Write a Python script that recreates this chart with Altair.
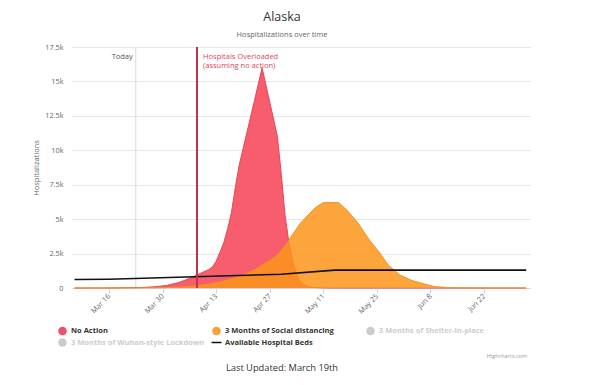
import altair as alt
import pandas as pd

# ---------------- data ----------------
no_action_dates = ["2020-03-07", "2020-03-16", "2020-03-24", "2020-03-28", "2020-03-31",
                   "2020-04-03", "2020-04-05", "2020-04-07", "2020-04-09", "2020-04-11",
                   "2020-04-12", "2020-04-13", "2020-04-14", "2020-04-15", "2020-04-16",
                   "2020-04-17", "2020-04-18", "2020-04-19", "2020-04-21", "2020-04-23",
                   "2020-04-25", "2020-04-27", "2020-04-29", "2020-04-30", "2020-05-01",
                   "2020-05-02", "2020-05-03", "2020-05-04", "2020-05-05", "2020-05-07",
                   "2020-05-09", "2020-05-11", "2020-05-15", "2020-07-03"]
no_action_values = [0, 5, 30, 90, 180,
                    380, 580, 820, 1080, 1330,
                    1520, 1950, 2600, 3300, 4300,
                    5500, 7300, 8900, 11250, 13600,
                    16000, 13500, 11000, 8300, 5300,
                    3300, 2000, 1000, 420, 90,
                    30, 10, 0, 0]

social_dates = ["2020-03-07", "2020-03-16", "2020-03-24", "2020-03-28", "2020-03-31",
                "2020-04-03", "2020-04-07", "2020-04-11", "2020-04-15", "2020-04-19",
                "2020-04-21", "2020-04-23", "2020-04-25", "2020-04-27", "2020-04-29",
                "2020-05-01", "2020-05-03", "2020-05-05", "2020-05-07", "2020-05-09",
                "2020-05-11", "2020-05-15", "2020-05-17", "2020-05-20", "2020-05-23",
                "2020-05-26", "2020-05-28", "2020-05-31", "2020-06-03", "2020-06-05",
                "2020-06-09", "2020-06-13", "2020-06-18", "2020-06-24", "2020-07-03"]
social_values = [0, 0, 5, 15, 30,
                 60, 130, 270, 500, 830,
                 1050, 1300, 1650, 2000, 2400,
                 3050, 3900, 4700, 5300, 5850,
                 6200, 6200, 5700, 4750, 3500,
                 2450, 1650, 950, 560, 400,
                 100, 30, 5, 0, 0]

beds_dates = ["2020-03-07", "2020-03-16", "2020-04-14", "2020-04-30", "2020-05-14", "2020-07-03"]
beds_values = [620, 640, 870, 1000, 1300, 1300]

series_names = ["No Action", "3 Months of Social distancing", "3 Months of Shelter-in-place",
                "3 Months of Wuhan-style Lockdown", "Available Hospital Beds"]
hidden_series = ["3 Months of Shelter-in-place", "3 Months of Wuhan-style Lockdown"]

today_date = ["2020-03-23"]
overload_date = ["2020-04-08"]
overload_line1 = ["Hospitals Overloaded"]
overload_line2 = ["(assuming no action)"]

x_tick_dates = [(2020, 3, 16), (2020, 3, 30), (2020, 4, 13), (2020, 4, 27),
                (2020, 5, 11), (2020, 5, 25), (2020, 6, 8), (2020, 6, 22)]
y_ticks = [0, 2500, 5000, 7500, 10000, 12500, 15000, 17500]

title_text = ["Alaska"]
subtitle_text = ["Hospitalizations over time"]
credit_text = ["Highcharts.com"]
footer_text = ["Last Updated: March 19th"]

# ---------------- styles ----------------
FONT = "Open Sans"
RED_FILL = "#F75D6D"
RED_LINE = "#E4475A"
ORANGE_FILL = "#FA951A"
ORANGE_LINE = "#F39422"
BEDS = "#111111"
OVERLOAD = "#C8304D"
legend_colors = ["#F0506A", "#F8A03A", "#CCCCCC", "#CCCCCC", "#111111"]
legend_shapes = ["circle", "circle", "circle", "circle", "M-1.4,0H1.4"]

x_scale = alt.Scale(type="utc", domain=[alt.DateTime(year=2020, month=3, date=6, hours=8, utc=True),
                                        alt.DateTime(year=2020, month=7, date=4, utc=True)])
y_scale = alt.Scale(domain=[0, 17500], nice=False)

x_axis = alt.Axis(title=None,
                  values=[alt.DateTime(year=y, month=m, date=d, utc=True) for (y, m, d) in x_tick_dates],
                  labelExpr="utcFormat(datum.value, '%b %-d')", labelAngle=-45, labelAlign="right",
                  labelBaseline="middle", labelFontSize=7.3, labelColor="#666666", labelFont=FONT,
                  tickColor="#ccd6eb", tickSize=5, domainColor="#ccd6eb", grid=False, labelPadding=2)
y_axis = alt.Axis(title="Hospitalizations", values=y_ticks,
                  labelExpr="datum.value == 0 ? '0' : (datum.value / 1000) + 'k'",
                  labelFontSize=7.3, labelColor="#666666", labelFont=FONT,
                  grid=True, gridColor="#e6e6e6", domain=False, ticks=False, labelPadding=9,
                  titleFont=FONT, titleFontSize=7.5, titleFontWeight="normal", titleColor="#666666",
                  titlePadding=4)


def frame(dates, values):
    return pd.DataFrame({"date": dates, "value": values})


def xenc():
    return alt.X("date:T", scale=x_scale, axis=x_axis)


def yenc():
    return alt.Y("value:Q", scale=y_scale, axis=y_axis)


today_rule = alt.Chart(pd.DataFrame({"date": today_date})).mark_rule(
    color="#d9d9d9", strokeWidth=1).encode(x=xenc())

red_area = alt.Chart(frame(no_action_dates, no_action_values)).mark_area(
    color=RED_FILL, fillOpacity=1, line=alt.OverlayMarkDef(color=RED_LINE, strokeWidth=1)
).encode(x=xenc(), y=yenc())

orange_area = alt.Chart(frame(social_dates, social_values)).mark_area(
    color=ORANGE_FILL, fillOpacity=0.85, line=alt.OverlayMarkDef(color=ORANGE_LINE, strokeWidth=1)
).encode(x=xenc(), y=yenc())

beds_line = alt.Chart(frame(beds_dates, beds_values)).mark_line(
    color=BEDS, strokeWidth=1.6).encode(x=xenc(), y=yenc())

overload_rule = alt.Chart(pd.DataFrame({"date": overload_date})).mark_rule(
    color=OVERLOAD, strokeWidth=2).encode(x=xenc())

today_label = alt.Chart(pd.DataFrame({"date": today_date, "t": ["Today"]})).mark_text(
    align="right", baseline="middle", dx=-3, font=FONT, fontSize=7.5, color="#555555"
).encode(x=xenc(), y=alt.value(10), text="t:N")

overload_label1 = alt.Chart(pd.DataFrame({"date": overload_date, "t": overload_line1})).mark_text(
    align="left", baseline="middle", dx=6, font=FONT, fontSize=7.5, color="#E0455A"
).encode(x=xenc(), y=alt.value(10), text="t:N")
overload_label2 = alt.Chart(pd.DataFrame({"date": overload_date, "t": overload_line2})).mark_text(
    align="left", baseline="middle", dx=6, font=FONT, fontSize=7.5, color="#E0455A"
).encode(x=xenc(), y=alt.value(19), text="t:N")

label_color_expr = ("indexof([" + ",".join("'" + s + "'" for s in hidden_series) +
                    "], datum.value) >= 0 ? '#cccccc' : '#333333'")
leg = alt.Legend(title=None, orient="none", legendX=-14, legendY=279, direction="horizontal",
                 columns=3, gridAlign="all", columnPadding=3, rowPadding=-3, padding=0,
                 symbolSize=50, symbolStrokeWidth=1.5, symbolOpacity=1, labelOffset=4,
                 labelFont=FONT, labelFontSize=7.5, labelFontWeight="bold",
                 labelColor={"expr": label_color_expr}, labelLimit=300)

legend_layer = alt.Chart(pd.DataFrame({"series": series_names})).transform_filter(
    "false").mark_point(filled=True, opacity=0).encode(
    fill=alt.Fill("series:N", scale=alt.Scale(domain=series_names, range=legend_colors), legend=leg),
    stroke=alt.Stroke("series:N", scale=alt.Scale(domain=series_names, range=legend_colors), legend=leg),
    shape=alt.Shape("series:N", scale=alt.Scale(domain=series_names, range=legend_shapes), legend=leg),
)


def text_layer(t, x, y, **kw):
    return alt.Chart(pd.DataFrame({"t": t})).mark_text(font=FONT, **kw).encode(
        x=alt.value(x), y=alt.value(y), text="t:N")


title_layer = text_layer(title_text, 210, -26, fontSize=12.5, color="#333333", align="center",
                         baseline="alphabetic")
subtitle_layer = text_layer(subtitle_text, 210, -10, fontSize=7.5, color="#666666", align="center",
                            baseline="alphabetic")
credit_layer = text_layer(credit_text, 455, 309, fontSize=5.5, color="#999999", align="right",
                          baseline="middle")
footer_layer = text_layer(footer_text, 210, 324, fontSize=9.3, color="#333333", align="center",
                          baseline="alphabetic")

chart = alt.layer(
    today_rule, red_area, orange_area, beds_line, overload_rule, today_label,
    overload_label1, overload_label2,
    legend_layer, title_layer, subtitle_layer, credit_layer, footer_layer
).properties(
    width=458, height=241,
    padding={"left": 64, "top": 39, "right": 59, "bottom": 89},
    autosize=alt.AutoSizeParams(type="none"),
    background="white",
).configure_view(stroke=None)

chart.save("out.html", embed_options={"renderer": "svg", "actions": False})
